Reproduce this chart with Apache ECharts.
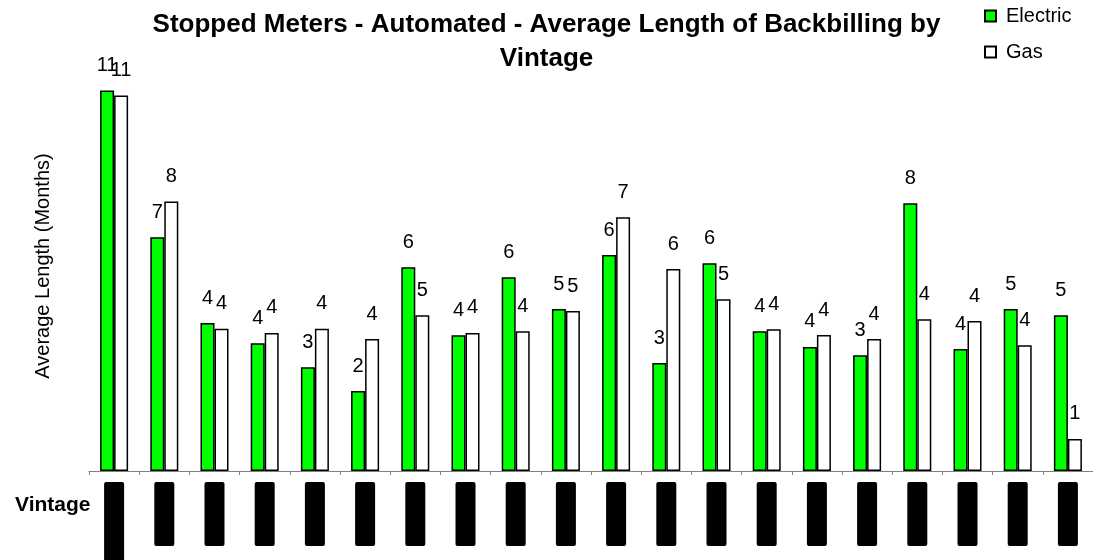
<!DOCTYPE html>
<html>
<head>
<meta charset="utf-8">
<script src="https://cdn.jsdelivr.net/npm/echarts@6/dist/echarts.min.js"></script>
<style>
html,body{margin:0;padding:0;background:#fff;}
#chart{width:1093px;height:560px;}
</style>
</head>
<body>
<div id="chart"></div>
<script>
var vintages = ["Pre-1987","1987","1988","1989","1990","1991","1992","1993","1994","1995","1996","1997","1998","1999","2000","2001","2002","2003","2004","2005"];
var electric = [11.14, 6.84, 4.33, 3.74, 3.04, 2.34, 5.96, 3.97, 5.67, 4.74, 6.32, 3.16, 6.08, 4.09, 3.63, 3.39, 7.84, 3.57, 4.74, 4.56];
var gas = [10.99, 7.89, 4.16, 4.04, 4.16, 3.86, 4.56, 4.04, 4.09, 4.68, 7.43, 5.91, 5.03, 4.15, 3.98, 3.86, 4.44, 4.39, 3.68, 0.94];

var FONT = '"Liberation Sans", Arial, sans-serif';
var chart = echarts.init(document.getElementById('chart'), null, {renderer: 'canvas'});

function barLabel() {
  return {
    show: true,
    position: 'top',
    distance: 15,
    color: '#000',
    fontFamily: FONT,
    fontSize: 20,
    formatter: function (p) { return Math.round(p.value); }
  };
}

chart.setOption({
  backgroundColor: '#fff',
  animation: false,
  title: [{
    text: 'Stopped Meters - Automated - Average Length of Backbilling by\nVintage',
    left: 'center',
    top: 3,
    textStyle: {fontFamily: FONT, fontSize: 26, fontWeight: 'bold', color: '#000', lineHeight: 34}
  }, {
    text: 'Vintage',
    left: 10,
    top: 490,
    textStyle: {fontFamily: FONT, fontSize: 21, fontWeight: 'bold', color: '#000'}
  }],
  legend: {
    orient: 'vertical',
    left: 979,
    top: 1,
    itemWidth: 11,
    itemHeight: 11,
    itemGap: 16,
    icon: 'rect',
    textStyle: {fontFamily: FONT, fontSize: 20, color: '#000', padding: [0, 0, 0, 5]},
    data: ['Electric', 'Gas']
  },
  grid: {left: 89, right: 0, top: 61, bottom: 89, outerBoundsMode: 'none'},
  xAxis: {
    type: 'category',
    data: vintages,
    axisLine: {show: true, lineStyle: {color: '#808080', width: 1}},
    axisTick: {show: true, length: 4, lineStyle: {color: '#808080'}},
    axisLabel: {
      interval: 0,
      rotate: 90,
      margin: 11,
      fontFamily: FONT,
      fontSize: 18,
      lineHeight: 18,
      color: '#000',
      backgroundColor: '#000',
      padding: [1, 12, 1, 12],
      borderRadius: 2
    }
  },
  yAxis: {
    type: 'value',
    min: 0,
    max: 12,
    name: 'Average Length (Months)',
    nameLocation: 'middle',
    nameGap: 36,
    nameRotate: 90,
    nameTextStyle: {fontFamily: FONT, fontSize: 20, color: '#000'},
    axisLine: {show: false},
    axisTick: {show: false},
    axisLabel: {show: false},
    splitLine: {show: false}
  },
  series: [{
    name: 'Electric',
    type: 'bar',
    data: electric,
    barWidth: 14,
    barGap: '0%',
    itemStyle: {color: '#00ff00', borderColor: '#000', borderWidth: 1.5},
    label: barLabel()
  }, {
    name: 'Gas',
    type: 'bar',
    data: gas,
    barWidth: 14,
    barGap: '0%',
    itemStyle: {color: '#ffffff', borderColor: '#000', borderWidth: 1.5},
    label: barLabel()
  }]
});
</script>
</body>
</html>
